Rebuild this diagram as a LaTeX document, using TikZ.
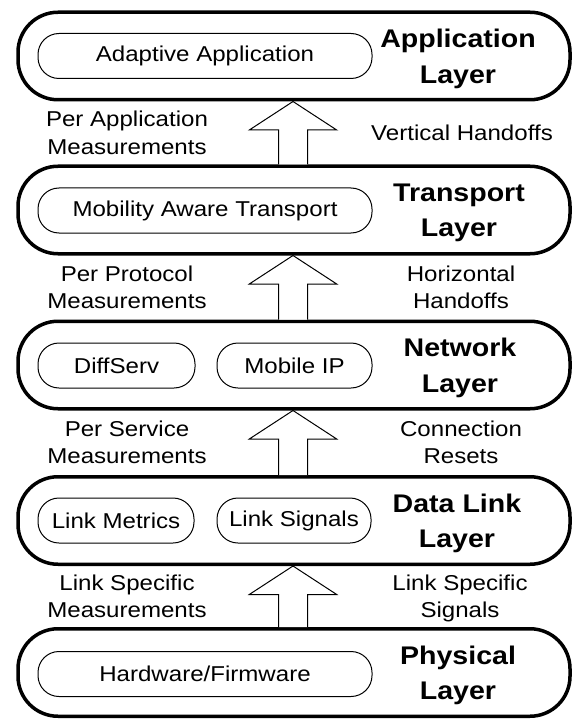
\documentclass[tikz,border=0pt]{standalone}
\usepackage{fontspec}
\setmainfont{Liberation Sans}[FakeStretch=1.12]
\usetikzlibrary{calc}
\tikzset{
  layer/.style={draw, line width=3.5pt, rounded corners=40pt, minimum width=552pt, minimum height=87.5pt, inner sep=0pt},
  module/.style={draw, line width=1pt, rounded corners=21pt, minimum height=45pt, inner sep=0pt, font=\fontsize{21.5}{27}\selectfont},
  layername/.style={align=center, inner sep=0pt, font=\fontsize{25.5}{35.5}\selectfont\bfseries},
  sidelabel/.style={align=center, inner sep=0pt, font=\fontsize{21.5}{27.5}\selectfont},
  blockarrow/.style={draw, line width=1pt, fill=white, line join=miter}
}
% Hollow block arrow from the top of the lower layer to the bottom of the upper one
\newcommand{\layerarrow}[2]{%
  \draw[blockarrow] let \p1=(#1.north), \p2=(#2.south) in
    (278.5pt,\y1) -- (278.5pt,\y2-28.5pt) -- (249.3pt,\y2-28.5pt) -- (293pt,\y2)
    -- (336.7pt,\y2-28.5pt) -- (307.5pt,\y2-28.5pt) -- (307.5pt,\y1);%
}
\begin{document}
\begin{tikzpicture}[x=1pt,y=-1pt]
\useasboundingbox (0,0) rectangle (575,719);

% layers
\node[layer] (app)   at (294,56)    {};
\node[layer] (trans) at (294,210)   {};
\node[layer] (net)   at (294,365)   {};
\node[layer] (link)  at (294,520.5) {};
\node[layer] (phys)  at (294,672.5) {};

% arrows between layers
\layerarrow{trans}{app}
\layerarrow{net}{trans}
\layerarrow{link}{net}
\layerarrow{phys}{link}

% modules inside the layers
\node[module, minimum width=334pt] (adapt) at (205,56)    {Adaptive Application};
\node[module, minimum width=334pt] (mat)   at (205,210.5) {Mobility Aware Transport};
\node[module, minimum width=157pt] (diff)  at (116.5,365.5) {DiffServ};
\node[module, minimum width=155pt] (mip)   at (294.5,365.5) {Mobile IP};
\node[module, minimum width=156pt] (lmet)  at (116,520.5) {Link Metrics};
\node[module, minimum width=154pt] (lsig)  at (294,520.5) {Link Signals};
\node[module, minimum width=334pt] (hw)    at (205,674)   {Hardware/Firmware};

% layer names
\node[layername] (appn)   at (458,59)    {Application\\Layer};
\node[layername] (transn) at (459,213)   {Transport\\Layer};
\node[layername] (netn)   at (460,368)   {Network\\Layer};
\node[layername] (linkn)  at (457,523.5) {Data Link\\Layer};
\node[layername] (physn)  at (458,675.5) {Physical\\Layer};

% measurements passed up (left) and events handled (right)
\node[sidelabel] (m1) at (127,133)   {Per Application\\Measurements};
\node[sidelabel] (e1) at (462,133)   {Vertical Handoffs};
\node[sidelabel] (m2) at (127,287.5) {Per Protocol\\Measurements};
\node[sidelabel] (e2) at (461,287.5) {Horizontal\\Handoffs};
\node[sidelabel] (m3) at (127,442.5) {Per Service\\Measurements};
\node[sidelabel] (e3) at (461,442.5) {Connection\\Resets};
\node[sidelabel] (m4) at (127,596.5) {Link Specific\\Measurements};
\node[sidelabel] (e4) at (460,598.5) {Link Specific\\Signals};
\end{tikzpicture}
\end{document}
